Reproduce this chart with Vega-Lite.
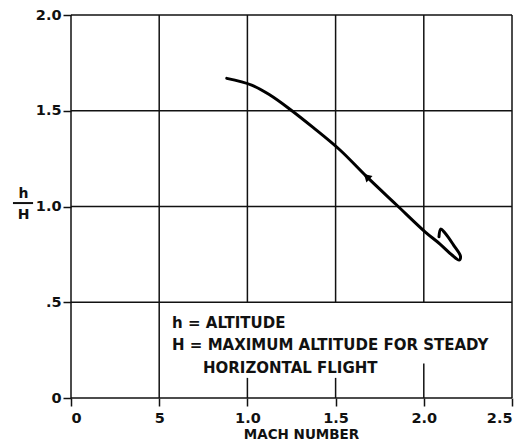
{
  "$schema": "https://vega.github.io/schema/vega-lite/v6.json",
  "width": 441,
  "height": 383,
  "autosize": "none",
  "padding": {"left": 71, "top": 15, "right": 12, "bottom": 46},
  "background": "white",
  "config": {
    "view": {"stroke": null},
    "axis": {
      "labelFont": "DejaVu Sans",
      "labelFontWeight": "bold",
      "labelFontSize": 14.5,
      "labelColor": "#111",
      "tickColor": "#111",
      "tickWidth": 1.5,
      "tickSize": 8,
      "domain": false,
      "grid": false,
      "titleFont": "DejaVu Sans",
      "titleFontWeight": "bold",
      "titleColor": "#111"
    }
  },
  "datasets": {
    "vgrid": [
      {"x": 0, "y": 0, "y2": 2},
      {"x": 0.5, "y": 0, "y2": 2},
      {"x": 1.0, "y": 0.5, "y2": 2},
      {"x": 1.5, "y": 0.5, "y2": 2},
      {"x": 2.0, "y": 0.5, "y2": 2},
      {"x": 2.5, "y": 0, "y2": 2},
      {"x": 1.0, "y": 0, "y2": 0.105},
      {"x": 1.5, "y": 0, "y2": 0.105},
      {"x": 2.0, "y": 0, "y2": 0.18}
    ],
    "hgrid": [
      {"y": 0, "x": 0, "x2": 2.5},
      {"y": 0.5, "x": 0, "x2": 2.5},
      {"y": 1.0, "x": 0, "x2": 2.5},
      {"y": 1.5, "x": 0, "x2": 2.5},
      {"y": 2.0, "x": 0, "x2": 2.5}
    ],
    "fracbar": [{"x": -0.329, "x2": -0.215, "y": 1.018}],
    "curve": [
      {"i": 1, "m": 2.086, "h": 0.842},
      {"i": 2, "m": 2.096, "h": 0.882},
      {"i": 3, "m": 2.118, "h": 0.864},
      {"i": 4, "m": 2.167, "h": 0.801},
      {"i": 5, "m": 2.208, "h": 0.74},
      {"i": 6, "m": 2.2, "h": 0.72},
      {"i": 7, "m": 2.158, "h": 0.748},
      {"i": 8, "m": 2.092, "h": 0.804},
      {"i": 9, "m": 2.007, "h": 0.868},
      {"i": 10, "m": 1.846, "h": 1.008},
      {"i": 11, "m": 1.676, "h": 1.156},
      {"i": 12, "m": 1.525, "h": 1.295},
      {"i": 13, "m": 1.372, "h": 1.413},
      {"i": 14, "m": 1.241, "h": 1.508},
      {"i": 15, "m": 1.128, "h": 1.582},
      {"i": 16, "m": 1.024, "h": 1.634},
      {"i": 17, "m": 0.883, "h": 1.669}
    ],
    "arrow": [{"m": 1.676, "h": 1.156}],
    "notes": [
      {"m": 0.573, "h": 0.366, "t": "h = ALTITUDE"},
      {"m": 0.573, "h": 0.251, "t": "H = MAXIMUM ALTITUDE FOR STEADY"},
      {"m": 0.748, "h": 0.131, "t": "HORIZONTAL FLIGHT"}
    ]
  },
  "layer": [
    {
      "data": {"name": "vgrid"},
      "mark": {"type": "rule", "color": "#111", "strokeWidth": 1.5},
      "encoding": {
        "x": {
          "field": "x", "type": "quantitative",
          "scale": {"domain": [0, 2.5], "nice": false},
          "axis": {
            "values": [0, 0.5, 1.0, 1.5, 2.0, 2.5],
            "labelExpr": "datum.value == 0 ? '0' : datum.value == 0.5 ? '5' : format(datum.value, '.1f')",
            "labelPadding": 5,
            "title": "MACH NUMBER",
            "titleFontSize": 13.5,
            "titlePadding": 3,
            "titleX": 230
          }
        },
        "y": {
          "field": "y", "type": "quantitative",
          "scale": {"domain": [0, 2], "nice": false},
          "axis": {
            "values": [0, 0.5, 1.0, 1.5, 2.0],
            "labelExpr": "datum.value == 0 ? '0' : datum.value == 0.5 ? '.5' : format(datum.value, '.1f')",
            "labelPadding": 2,
            "title": ["h", "H"],
            "titleAngle": 0,
            "titleFontSize": 14,
            "titleLineHeight": 21,
            "titleAlign": "center",
            "titleBaseline": "middle",
            "titleX": -48,
            "titleY": 178
          }
        },
        "y2": {"field": "y2"}
      }
    },
    {
      "data": {"name": "hgrid"},
      "mark": {"type": "rule", "color": "#111", "strokeWidth": 1.5},
      "encoding": {
        "y": {"field": "y", "type": "quantitative"},
        "x": {"field": "x", "type": "quantitative"},
        "x2": {"field": "x2"}
      }
    },
    {
      "data": {"name": "fracbar"},
      "mark": {"type": "rule", "color": "#111", "strokeWidth": 2, "clip": false},
      "encoding": {
        "y": {"field": "y", "type": "quantitative"},
        "x": {"field": "x", "type": "quantitative"},
        "x2": {"field": "x2"}
      }
    },
    {
      "data": {"name": "curve"},
      "mark": {"type": "line", "color": "#000", "strokeWidth": 3, "interpolate": "catmull-rom", "strokeCap": "round", "strokeJoin": "round"},
      "encoding": {
        "x": {"field": "m", "type": "quantitative"},
        "y": {"field": "h", "type": "quantitative"},
        "order": {"field": "i", "type": "quantitative"}
      }
    },
    {
      "data": {"name": "arrow"},
      "mark": {"type": "point", "shape": "triangle-up", "filled": true, "color": "#000", "size": 80, "angle": 313, "opacity": 1},
      "encoding": {
        "x": {"field": "m", "type": "quantitative"},
        "y": {"field": "h", "type": "quantitative"}
      }
    },
    {
      "data": {"name": "notes"},
      "mark": {"type": "text", "align": "left", "baseline": "alphabetic", "font": "DejaVu Sans", "fontWeight": "bold", "fontSize": 15, "color": "#111"},
      "encoding": {
        "x": {"field": "m", "type": "quantitative"},
        "y": {"field": "h", "type": "quantitative"},
        "text": {"field": "t"}
      }
    }
  ]
}
